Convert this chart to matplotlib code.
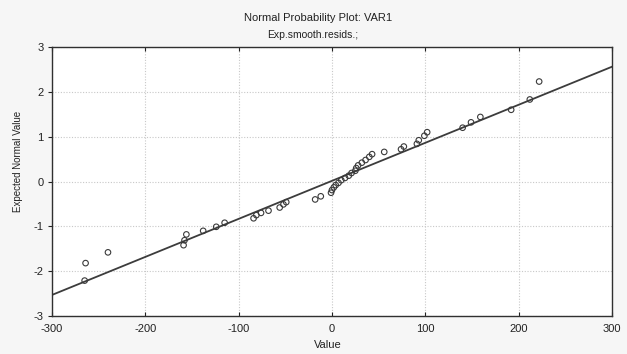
import numpy as np
import matplotlib
matplotlib.use("Agg")
import matplotlib.pyplot as plt

# residual values and their expected normal values
values = [-265, -264, -240, -159, -158, -156, -138, -124, -115, -84, -81, -76,
          -68, -56, -52, -49, -18, -12, -1, 0, 2, 4, 7, 10, 14, 18, 21, 25,
          26, 28, 32, 36, 40, 43, 56, 74, 77, 91, 93, 99, 102, 140, 149, 159,
          192, 212, 222]
expected = [-2.21, -1.82, -1.58, -1.42, -1.31, -1.18, -1.10, -1.01, -0.92,
            -0.82, -0.75, -0.70, -0.65, -0.58, -0.51, -0.46, -0.40, -0.33,
            -0.25, -0.19, -0.13, -0.08, -0.03, 0.03, 0.08, 0.13, 0.19, 0.24,
            0.30, 0.36, 0.42, 0.48, 0.55, 0.61, 0.66, 0.72, 0.78, 0.84, 0.92,
            1.02, 1.10, 1.20, 1.32, 1.44, 1.60, 1.83, 2.23]

# reference line end points
line_x = [-300, 300]
line_y = [-2.53, 2.56]

xticks = [-300, -200, -100, 0, 100, 200, 300]
yticks = [-3, -2, -1, 0, 1, 2, 3]

plt.rcParams['font.family'] = ['Liberation Sans', 'DejaVu Sans']
plt.rcParams['axes.unicode_minus'] = False

fig = plt.figure(figsize=(6.27, 3.54), dpi=100, facecolor='#f6f6f6')
ax = fig.add_axes([0.0829, 0.1073, 0.8931, 0.7599])
ax.set_facecolor('white')

ax.plot(line_x, line_y, color='#3c3c3c', lw=1.3, zorder=2)
ax.scatter(values, expected, s=16, facecolors='none', edgecolors='#3a3a3a',
           linewidths=0.8, zorder=3)

ax.set_xlim(-300, 300)
ax.set_ylim(-3, 3)
ax.set_xticks(xticks)
ax.set_yticks(yticks)
ax.grid(True, color='#c8c8c8', linestyle=(0, (1, 1.5)), lw=0.8)
ax.tick_params(axis='x', direction='in', top=True, length=3, labelsize=8,
               pad=6, colors='#222222')
ax.tick_params(axis='y', direction='out', length=3, labelsize=8, pad=3,
               colors='#222222')
for s in ax.spines.values():
    s.set_color('#303030')
    s.set_linewidth(1.0)

fig.text(0.507, 0.948, "Normal Probability Plot: VAR1", ha='center',
         va='center', fontsize=8, color='#222222')
fig.text(0.498, 0.900, "Exp.smooth.resids.;", ha='center', va='center',
         fontsize=7.5, color='#222222')
fig.text(0.523, 0.025, "Value", ha='center', va='center', fontsize=8,
         color='#222222')
fig.text(0.029, 0.543, "Expected Normal Value", ha='center', va='center',
         rotation=90, fontsize=7, color='#222222',
         family=['Liberation Sans Narrow', 'Liberation Sans', 'DejaVu Sans'])

fig.savefig("out.png", dpi=100, facecolor=fig.get_facecolor())
